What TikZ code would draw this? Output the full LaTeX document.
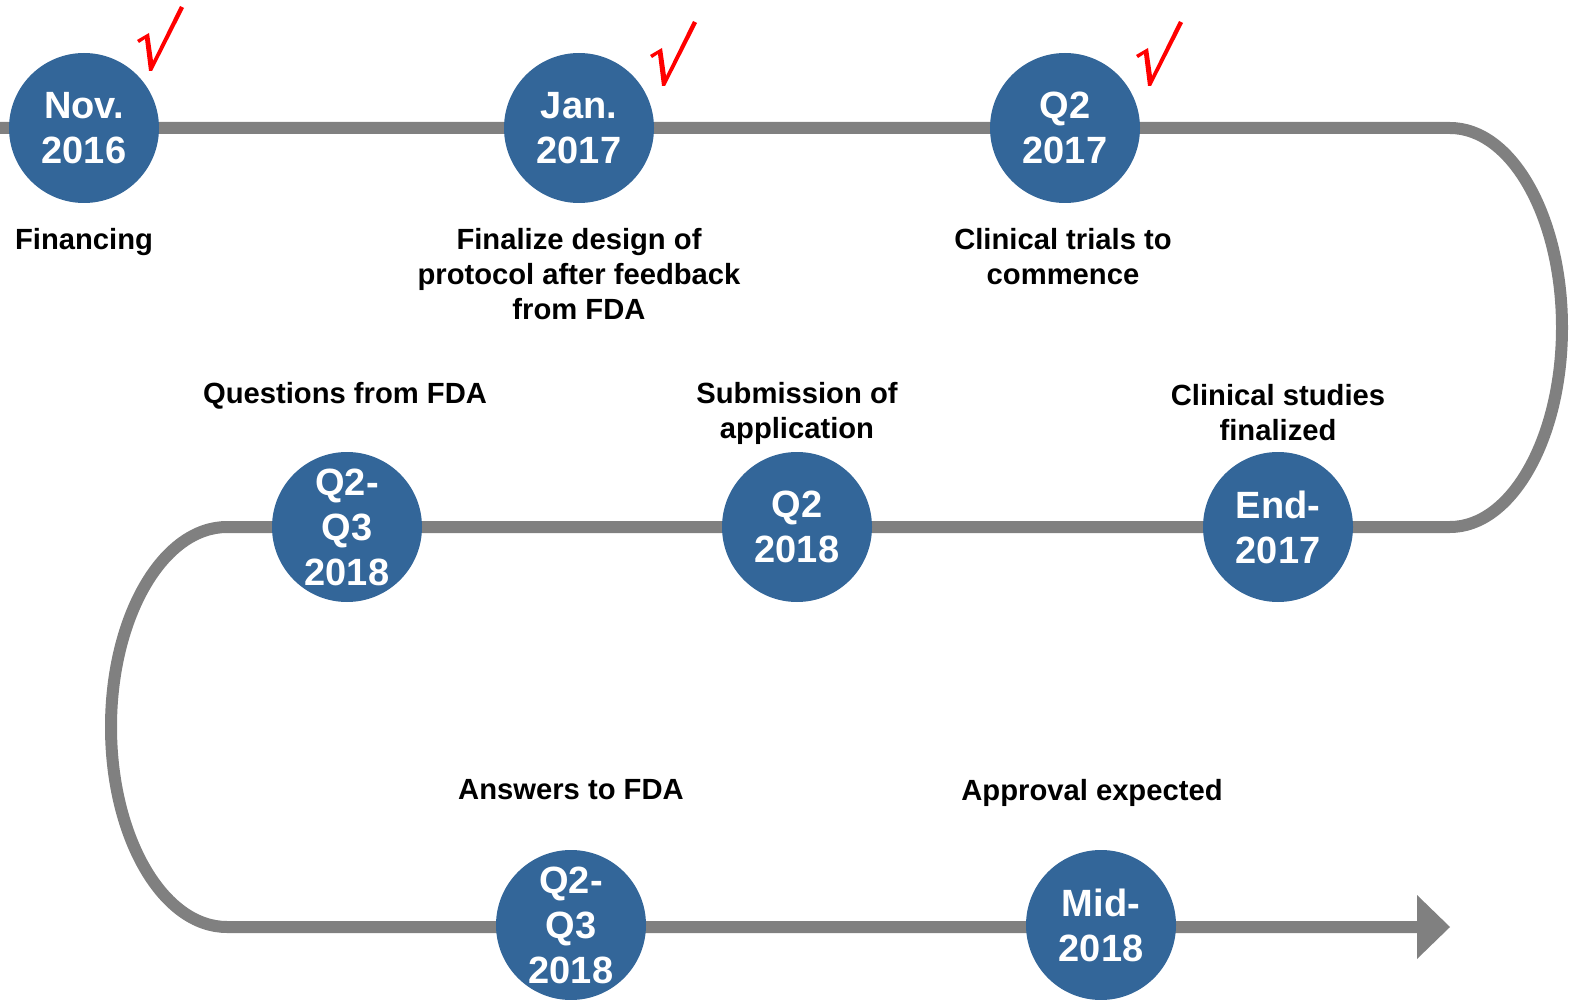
\documentclass[tikz,border=0pt]{standalone}
\usepackage{fontspec}
\setmainfont{Liberation Sans}
\definecolor{dotblue}{RGB}{51,102,153}
\definecolor{linegray}{RGB}{128,128,128}
\begin{document}
\begin{tikzpicture}[x=1pt,y=-1pt,
  dot/.style={circle, fill=dotblue, minimum size=150pt, inner sep=0pt, text=white,
    font=\bfseries\fontsize{38}{45}\selectfont, align=center},
  lbl/.style={anchor=north, inner sep=0pt, align=center,
    font=\bfseries\fontsize{29.2}{35}\selectfont},
  track/.style={draw=linegray, line width=12pt},
  tickmark/.pic={\fill[red] (-15,-30) -- (-3,-37) -- (1,-9) -- (28,-64) -- (32,-62)
    -- (0,1) -- (-3,1) -- (-7,-31) -- (-13,-27) -- cycle;}]
\useasboundingbox (0,0) rectangle (1572,1000);
% track
\coordinate (t0) at (0,128);
\coordinate (t1) at (1450,128);
\coordinate (m0) at (227,527);
\coordinate (b1) at (1417,927);
\coordinate (tip) at (1450,927);
\coordinate (hu) at (1417,895);
\coordinate (hd) at (1417,959);
\draw[track] (t0) -- (t1)
  arc[start angle=-90, end angle=90, x radius=112, y radius=199.5]
  -- (m0) arc[start angle=270, end angle=90, x radius=116, y radius=200]
  -- (b1);
\fill[linegray] (hu) -- (tip) -- (hd) -- cycle;
% milestones
\node[dot] (c1) at (84,128) {Nov.\\2016};
\node[dot] (c2) at (579,128) {Jan.\\2017};
\node[dot] (c3) at (1065,128) {Q2\\2017};
\node[dot] (c4) at (347,527) {Q2-\\Q3\\2018};
\node[dot] (c5) at (797,527) {Q2\\2018};
\node[dot] (c6) at (1278,527) {End-\\2017};
\node[dot] (c7) at (571,925) {Q2-\\Q3\\2018};
\node[dot] (c8) at (1101,925) {Mid-\\2018};
% checkmarks
\pic at (152,70) {tickmark};
\pic at (665,85) {tickmark};
\pic at (1151,85) {tickmark};
% labels
\node[lbl] (l1) at (84,228) {Financing};
\node[lbl] (l2) at (579,228) {Finalize design of\\protocol after feedback\\from FDA};
\node[lbl] (l3) at (1063,228) {Clinical trials to\\commence};
\node[lbl] (l4) at (345,382) {Questions from FDA};
\node[lbl] (l5) at (797,382) {Submission of\\application};
\node[lbl] (l6) at (1278,384) {Clinical studies\\finalized};
\node[lbl] (l7) at (571,779) {Answers to FDA};
\node[lbl] (l8) at (1092,779) {Approval expected};
\end{tikzpicture}
\end{document}
